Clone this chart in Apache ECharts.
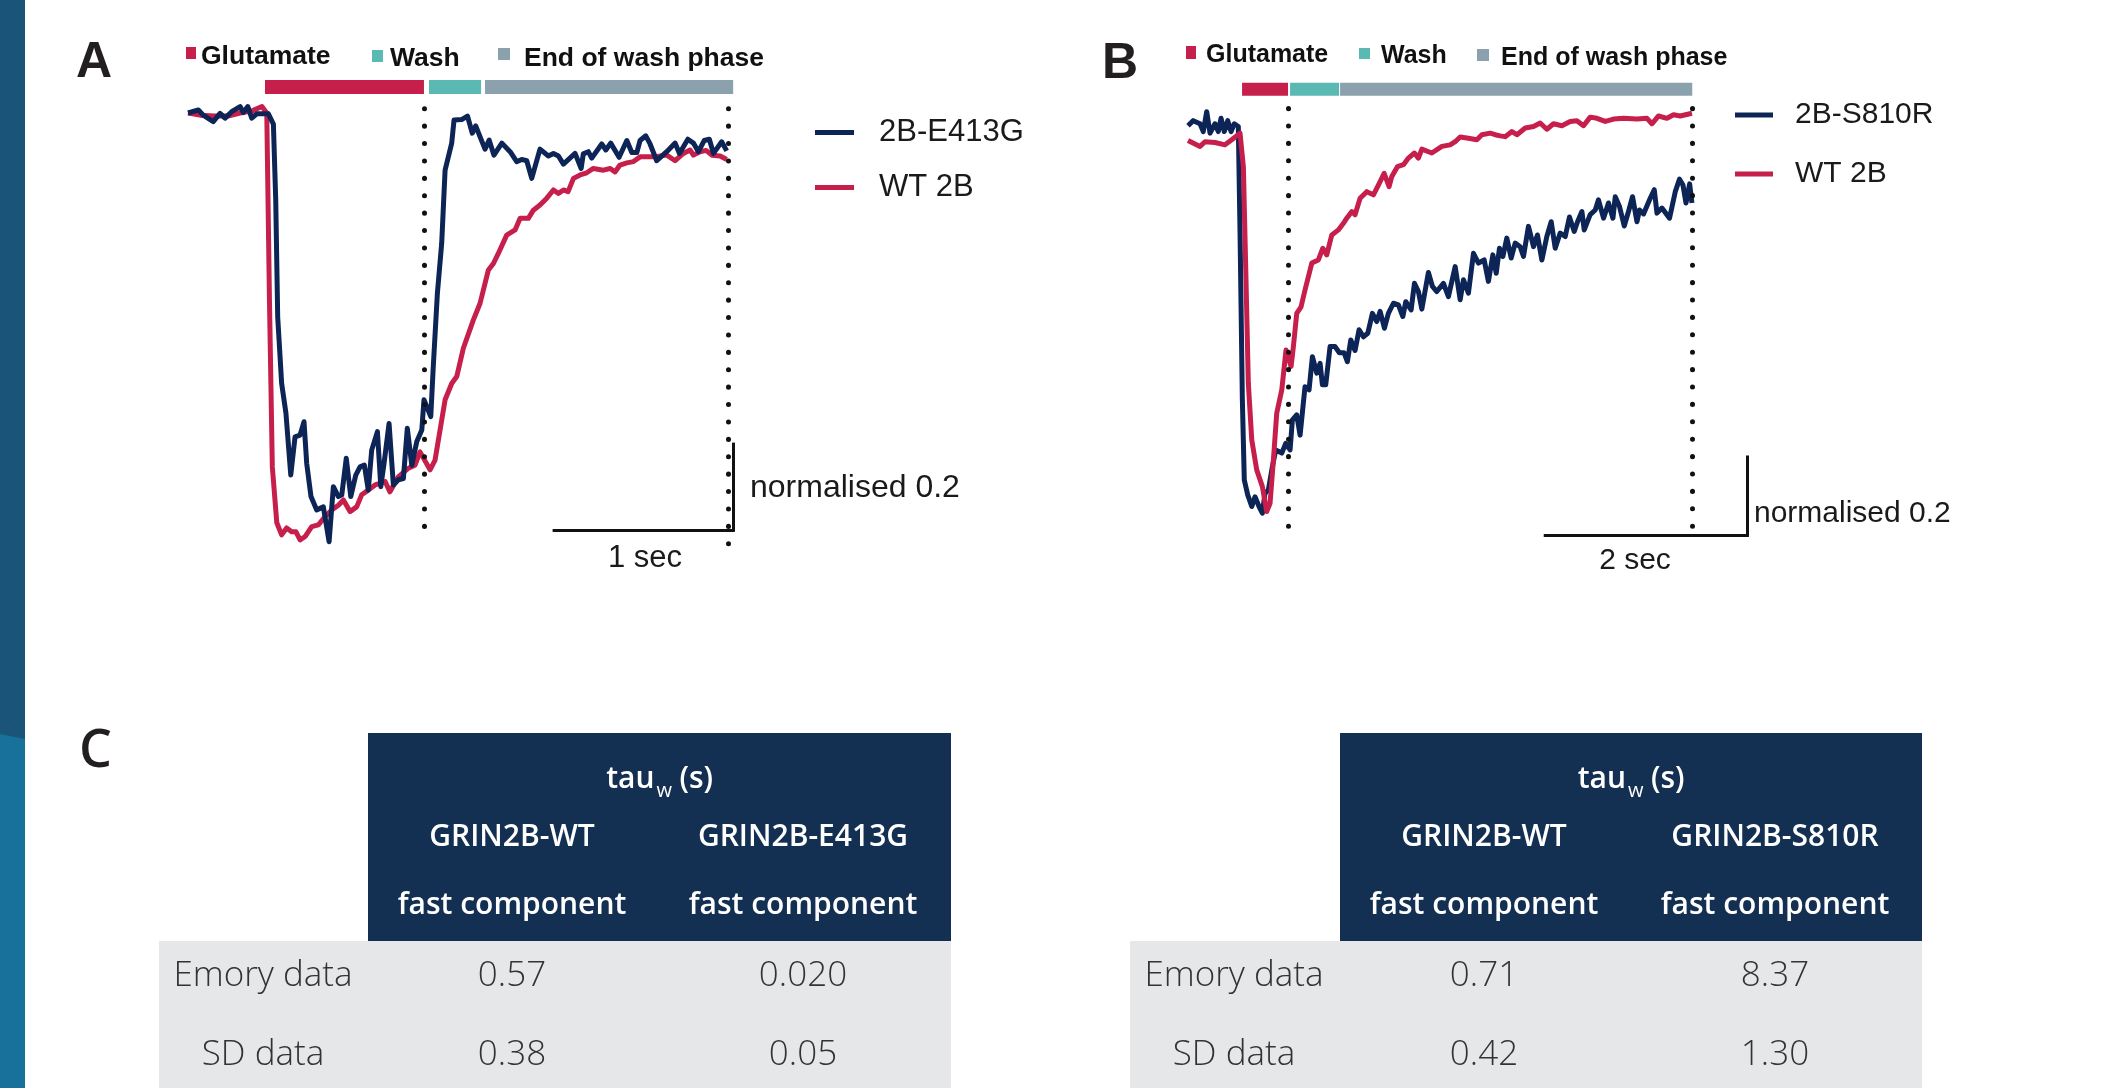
<!DOCTYPE html>
<html>
<head>
<meta charset="utf-8">
<title>GRIN2B wash traces</title>
<script src="https://cdn.jsdelivr.net/npm/echarts@6/dist/echarts.min.js"></script>
<style>
  html, body { margin: 0; padding: 0; background: #fff; }
  #chart { width: 2124px; height: 1088px; }
</style>
</head>
<body>
<div id="chart"></div>
<script>
// panel A traces, [time (s), normalised current]
const aE413G = [[0,0],[0.058,0.007],[0.085,-0.005],[0.141,-0.020],[0.179,-0.001],[0.207,-0.012],[0.244,0.003],[0.291,0.015],[0.309,0.001],[0.334,0.015],[0.356,-0.012],[0.384,-0.002],[0.449,-0.002],[0.477,-0.026],[0.490,-0.202],[0.501,-0.474],[0.523,-0.629],[0.547,-0.698],[0.574,-0.842],[0.598,-0.753],[0.626,-0.749],[0.648,-0.718],[0.663,-0.815],[0.687,-0.892],[0.719,-0.923],[0.756,-0.916],[0.788,-0.997],[0.812,-0.869],[0.840,-0.892],[0.859,-0.888],[0.884,-0.803],[0.909,-0.892],[0.937,-0.842],[0.961,-0.823],[0.985,-0.819],[1.007,-0.877],[1.026,-0.784],[1.058,-0.741],[1.077,-0.869],[1.095,-0.815],[1.123,-0.722],[1.147,-0.865],[1.175,-0.853],[1.203,-0.850],[1.225,-0.733],[1.250,-0.819],[1.278,-0.764],[1.306,-0.737],[1.318,-0.667],[1.334,-0.683],[1.356,-0.706],[1.370,-0.590],[1.393,-0.419],[1.417,-0.303],[1.436,-0.133],[1.473,-0.070],[1.486,-0.016],[1.531,-0.015],[1.561,-0.007],[1.588,-0.047],[1.607,-0.030],[1.659,-0.084],[1.682,-0.063],[1.709,-0.098],[1.753,-0.070],[1.803,-0.092],[1.836,-0.113],[1.864,-0.108],[1.892,-0.111],[1.920,-0.152],[1.966,-0.084],[2.013,-0.100],[2.041,-0.094],[2.069,-0.100],[2.097,-0.119],[2.162,-0.094],[2.196,-0.129],[2.208,-0.095],[2.236,-0.090],[2.255,-0.105],[2.311,-0.072],[2.334,-0.086],[2.361,-0.070],[2.408,-0.103],[2.451,-0.064],[2.479,-0.092],[2.507,-0.092],[2.525,-0.064],[2.557,-0.053],[2.581,-0.072],[2.618,-0.111],[2.674,-0.090],[2.721,-0.070],[2.745,-0.094],[2.792,-0.061],[2.823,-0.070],[2.851,-0.090],[2.883,-0.064],[2.912,-0.061],[2.935,-0.094],[2.981,-0.067],[3.009,-0.088]];
const aWT = [[0,0],[0.067,-0.005],[0.151,-0.007],[0.223,-0.007],[0.291,0],[0.358,0.005],[0.413,0.015],[0.440,0.000],[0.455,-0.435],[0.471,-0.823],[0.496,-0.953],[0.523,-0.981],[0.551,-0.965],[0.579,-0.974],[0.603,-0.974],[0.626,-0.993],[0.654,-0.985],[0.691,-0.962],[0.728,-0.958],[0.765,-0.939],[0.803,-0.923],[0.840,-0.912],[0.868,-0.900],[0.905,-0.927],[0.942,-0.916],[0.970,-0.888],[1.007,-0.877],[1.045,-0.865],[1.101,-0.857],[1.128,-0.881],[1.175,-0.846],[1.231,-0.826],[1.268,-0.819],[1.296,-0.788],[1.352,-0.830],[1.380,-0.807],[1.408,-0.737],[1.436,-0.667],[1.473,-0.629],[1.501,-0.613],[1.538,-0.547],[1.594,-0.481],[1.631,-0.443],[1.678,-0.365],[1.706,-0.350],[1.734,-0.326],[1.780,-0.284],[1.827,-0.272],[1.855,-0.245],[1.901,-0.245],[1.929,-0.226],[1.966,-0.214],[2.004,-0.198],[2.041,-0.179],[2.069,-0.187],[2.097,-0.179],[2.123,-0.183],[2.153,-0.152],[2.190,-0.144],[2.227,-0.139],[2.264,-0.129],[2.320,-0.133],[2.358,-0.129],[2.385,-0.137],[2.413,-0.121],[2.451,-0.116],[2.488,-0.113],[2.525,-0.102],[2.599,-0.102],[2.674,-0.098],[2.721,-0.111],[2.767,-0.094],[2.804,-0.086],[2.823,-0.098],[2.860,-0.090],[2.894,-0.087],[2.926,-0.098],[2.972,-0.100],[3.009,-0.108]];

// panel B traces
const bS810R = [[0,-0.010],[0.052,0.003],[0.119,-0.005],[0.151,-0.025],[0.185,0.026],[0.218,-0.029],[0.267,-0.005],[0.300,-0.025],[0.327,0.009],[0.359,-0.025],[0.393,0.003],[0.426,-0.025],[0.458,-0.005],[0.498,-0.012],[0.515,-0.285],[0.538,-0.713],[0.557,-0.918],[0.591,-0.956],[0.631,-0.986],[0.663,-0.961],[0.703,-0.986],[0.736,-1.003],[0.762,-0.952],[0.795,-0.944],[0.835,-0.884],[0.868,-0.841],[0.928,-0.849],[0.967,-0.824],[1.010,-0.841],[1.033,-0.764],[1.076,-0.751],[1.109,-0.803],[1.158,-0.679],[1.198,-0.687],[1.231,-0.602],[1.274,-0.644],[1.307,-0.619],[1.330,-0.674],[1.363,-0.674],[1.406,-0.576],[1.455,-0.576],[1.498,-0.592],[1.545,-0.592],[1.577,-0.615],[1.611,-0.559],[1.653,-0.586],[1.693,-0.533],[1.736,-0.551],[1.779,-0.542],[1.825,-0.491],[1.868,-0.512],[1.901,-0.486],[1.944,-0.529],[1.983,-0.491],[2.033,-0.465],[2.082,-0.469],[2.126,-0.499],[2.155,-0.461],[2.208,-0.482],[2.241,-0.414],[2.280,-0.435],[2.314,-0.480],[2.379,-0.386],[2.419,-0.422],[2.462,-0.435],[2.528,-0.414],[2.577,-0.448],[2.644,-0.371],[2.693,-0.456],[2.726,-0.405],[2.775,-0.439],[2.825,-0.337],[2.874,-0.362],[2.931,-0.354],[2.973,-0.409],[3.017,-0.341],[3.050,-0.388],[3.082,-0.324],[3.116,-0.345],[3.155,-0.298],[3.198,-0.349],[3.238,-0.311],[3.287,-0.320],[3.320,-0.345],[3.369,-0.268],[3.419,-0.320],[3.458,-0.290],[3.502,-0.354],[3.551,-0.294],[3.594,-0.256],[3.634,-0.324],[3.683,-0.285],[3.733,-0.294],[3.775,-0.244],[3.822,-0.281],[3.855,-0.256],[3.898,-0.230],[3.921,-0.277],[3.980,-0.238],[4.030,-0.226],[4.062,-0.200],[4.112,-0.247],[4.161,-0.208],[4.205,-0.247],[4.228,-0.192],[4.270,-0.217],[4.317,-0.267],[4.359,-0.230],[4.399,-0.192],[4.443,-0.256],[4.468,-0.226],[4.508,-0.236],[4.574,-0.196],[4.614,-0.174],[4.641,-0.234],[4.690,-0.221],[4.765,-0.247],[4.822,-0.179],[4.864,-0.147],[4.898,-0.162],[4.928,-0.208],[4.964,-0.159],[4.987,-0.208]];
const bWT = [[0,-0.048],[0.119,-0.063],[0.168,-0.051],[0.267,-0.053],[0.366,-0.059],[0.433,-0.046],[0.515,-0.029],[0.548,-0.115],[0.571,-0.371],[0.597,-0.670],[0.631,-0.815],[0.680,-0.892],[0.736,-0.935],[0.779,-0.999],[0.812,-0.978],[0.845,-0.867],[0.878,-0.747],[0.928,-0.687],[0.970,-0.585],[1.020,-0.627],[1.043,-0.576],[1.076,-0.491],[1.119,-0.474],[1.158,-0.431],[1.225,-0.362],[1.290,-0.354],[1.334,-0.324],[1.373,-0.341],[1.423,-0.290],[1.488,-0.277],[1.538,-0.260],[1.571,-0.247],[1.621,-0.230],[1.653,-0.238],[1.703,-0.196],[1.769,-0.179],[1.835,-0.187],[1.884,-0.162],[1.941,-0.132],[1.990,-0.166],[2.017,-0.140],[2.072,-0.115],[2.132,-0.110],[2.181,-0.093],[2.241,-0.080],[2.280,-0.093],[2.314,-0.070],[2.413,-0.080],[2.512,-0.063],[2.594,-0.059],[2.644,-0.051],[2.693,-0.039],[2.775,-0.042],[2.858,-0.046],[2.908,-0.033],[2.990,-0.029],[3.040,-0.033],[3.089,-0.036],[3.139,-0.038],[3.205,-0.025],[3.255,-0.033],[3.337,-0.016],[3.419,-0.012],[3.485,-0.003],[3.551,-0.019],[3.617,-0.005],[3.700,-0.010],[3.782,0.001],[3.848,0.003],[3.914,-0.010],[3.980,0.012],[4.047,0.009],[4.129,0.001],[4.211,0.007],[4.310,0.009],[4.443,0.007],[4.542,0.009],[4.591,-0.005],[4.656,0.015],[4.740,0.009],[4.805,0.018],[4.871,0.015],[4.987,0.022]];

// protocol phases [start, end] in s
const phaseNames = ['Glutamate', 'Wash', 'End of wash phase'];
const aPhases = [[0.430, 1.318], [1.346, 1.637], [1.659, 3.045]];
const bPhases = [[0.535, 0.990], [1.010, 1.495], [1.505, 4.990]];
// dotted markers, s
const aMarkers = [1.320, 3.019];
const bMarkers = [0.995, 4.993];

// table C
const headA = ['GRIN2B-WT', 'GRIN2B-E413G'];
const headB = ['GRIN2B-WT', 'GRIN2B-S810R'];
const rowLabels = ['Emory data', 'SD data'];
const tauA = [['0.57', '0.020'], ['0.38', '0.05']];
const tauB = [['0.71', '8.37'], ['0.42', '1.30']];

const NAVY = '#0c2456', RED = '#c61f4b', TEAL = '#5bb9b3', GREY = '#8ba1ae';
const phaseColors = [RED, TEAL, GREY];
const ARIAL = '"Liberation Sans", Arial, sans-serif';
const SANS = '"Open Sans", "Noto Sans", sans-serif';

function guides(phases, barY, markers, dotY, bar) {
  const dots = { type: [0.1, 17.3], cap: 'round', width: 5, color: '#111' };
  const solid = { type: 'solid', cap: 'square', width: 3, color: '#111' };
  const lines = markers.map((m, i) => [
    { coord: [m, dotY[0]], lineStyle: dots },
    { coord: [m, dotY[i + 1]] }
  ]);
  lines.push([{ coord: [bar.x0, bar.y0], lineStyle: solid }, { coord: [bar.x0 + bar.dx, bar.y0] }]);
  lines.push([{ coord: [bar.x0 + bar.dx, bar.y0], lineStyle: solid }, { coord: [bar.x0 + bar.dx, bar.y0 + 0.2] }]);
  return {
    markArea: {
      silent: true,
      data: phases.map((p, i) => [
        { xAxis: p[0], yAxis: barY[0], itemStyle: { color: phaseColors[i] } },
        { xAxis: p[1], yAxis: barY[1] }
      ])
    },
    markLine: { silent: true, symbol: ['none', 'none'], label: { show: false }, data: lines }
  };
}

function trace(name, data, color, idx, z, extra) {
  return Object.assign({
    name, type: 'line', data, xAxisIndex: idx, yAxisIndex: idx, z,
    symbol: 'none', color,
    lineStyle: { color, width: 5, join: 'round' }
  }, extra || {});
}

function txt(x, y, text, size, o) {
  o = o || {};
  return {
    type: 'text', x, y, z: 10,
    style: {
      text, fontSize: size, fontFamily: o.family || ARIAL, fontWeight: o.weight || 'normal',
      fill: o.fill || '#1a1a1a',
      align: o.align || 'left', textAlign: o.align || 'left',
      verticalAlign: 'middle', textVerticalAlign: 'middle'
    }
  };
}

function phaseKey(squares, xs, ys, size) {
  const out = [];
  squares.forEach((s, i) => {
    out.push({ type: 'rect', shape: { x: s[0], y: s[1], width: s[2], height: s[3] }, style: { fill: phaseColors[i] } });
    out.push(txt(xs[i], ys[i], phaseNames[i], size, { weight: 'bold', fill: '#111' }));
  });
  return out;
}

function table(gx, hx, right, head, vals, colC, labelC) {
  const out = [];
  out.push({ type: 'rect', shape: { x: gx, y: 941, width: right - gx, height: 147 }, style: { fill: '#e6e7e8' } });
  out.push({ type: 'rect', shape: { x: hx, y: 733, width: right - hx, height: 208 }, style: { fill: '#132f52' } });
  const c = (hx + right) / 2;
  const white = { family: SANS, weight: 600, fill: '#fff' };
  out.push(txt(c - 5, 779, 'tau', 30, Object.assign({ align: 'right' }, white)));
  out.push(txt(c - 3, 791, 'w', 20, Object.assign({}, white, { weight: 500 })));
  out.push(txt(c + 20, 779, '(s)', 30, white));
  head.forEach((h, i) => {
    out.push(txt(colC[i], 837, h, 30, Object.assign({ align: 'center' }, white)));
    out.push(txt(colC[i], 905, 'fast component', 30, Object.assign({ align: 'center' }, white)));
  });
  const rowY = [976, 1055];
  rowLabels.forEach((r, j) => {
    const light = { family: SANS, weight: 300, fill: '#333', align: 'center' };
    out.push(txt(labelC, rowY[j], r, 35, light));
    vals[j].forEach((v, i) => out.push(txt(colC[i], rowY[j], v, 35, light)));
  });
  return out;
}

const chart = echarts.init(document.getElementById('chart'), null, { renderer: 'canvas' });

const graphic = [
  { type: 'rect', shape: { x: 0, y: 0, width: 25, height: 1088 }, style: { fill: '#18719b' } },
  { type: 'polygon', shape: { points: [[0, 0], [25, 0], [25, 739], [0, 734]] }, style: { fill: '#1a5478' } },
  txt(76, 63, 'A', 50, { weight: 'bold', fill: '#231f20' }),
  txt(1102, 64, 'B', 50, { weight: 'bold', fill: '#231f20' }),
  txt(79, 752, 'C', 52, { family: SANS, weight: 600, fill: '#231f20' }),
  txt(750, 488, 'normalised 0.2', 32),
  txt(645, 558, '1 sec', 31, { align: 'center' }),
  txt(1754, 514, 'normalised 0.2', 30),
  txt(1635, 561, '2 sec', 30, { align: 'center' })
].concat(
  phaseKey([[186, 47, 10, 12], [372, 50, 11, 12], [498, 48, 12, 12]], [201, 390, 524], [57, 58.5, 59], 26.5),
  phaseKey([[1186, 46, 10, 13], [1359, 48, 11, 11], [1477, 49, 12, 12]], [1206, 1381, 1501], [55, 56.5, 58], 25),
  table(159, 368, 951, headA, tauA, [512, 803], 263),
  table(1130, 1340, 1922, headB, tauB, [1484, 1775], 1234)
);

chart.setOption({
  animation: false,
  backgroundColor: '#fff',
  grid: [
    { left: 188, top: 70, width: 555, height: 516 },
    { left: 1188, top: 75, width: 576, height: 476 }
  ],
  xAxis: [
    { type: 'value', gridIndex: 0, min: 0, max: 3.1, show: false },
    { type: 'value', gridIndex: 1, min: 0, max: 5.7, show: false }
  ],
  yAxis: [
    { type: 'value', gridIndex: 0, min: -1.1, max: 0.1, show: false },
    { type: 'value', gridIndex: 1, min: -1.1, max: 0.12, show: false }
  ],
  legend: [
    {
      data: ['2B-E413G', 'WT 2B'], orient: 'vertical', left: 815, top: 117, padding: 0,
      icon: 'rect', itemWidth: 39, itemHeight: 5, itemGap: 24, selectedMode: false,
      textStyle: { fontSize: 31, fontFamily: ARIAL, color: '#1a1a1a', padding: [0, 0, 0, 20] }
    },
    {
      data: ['2B-S810R', 'WT 2B'], orient: 'vertical', left: 1735, top: 100, padding: 0,
      icon: 'rect', itemWidth: 38, itemHeight: 5, itemGap: 29, selectedMode: false,
      textStyle: { fontSize: 30, fontFamily: ARIAL, color: '#1a1a1a', padding: [0, 0, 0, 17] }
    }
  ],
  graphic: graphic,
  series: [
    trace('WT 2B', aWT, RED, 0, 2),
    trace('2B-E413G', aE413G, NAVY, 0, 3, guides(aPhases, [0.0767, 0.0442], aMarkers, [0.010, -1.0, -1.037],
      { x0: 2.045, y0: -0.970, dx: 1.0 })),
    trace('2B-S810R', bS810R, NAVY, 1, 2),
    trace('WT 2B', bWT, RED, 1, 3, guides(bPhases, [0.100, 0.0667], bMarkers, [0.034, -1.046, -1.046],
      { x0: 3.535, y0: -1.059, dx: 2.0 }))
  ]
});
</script>
</body>
</html>
